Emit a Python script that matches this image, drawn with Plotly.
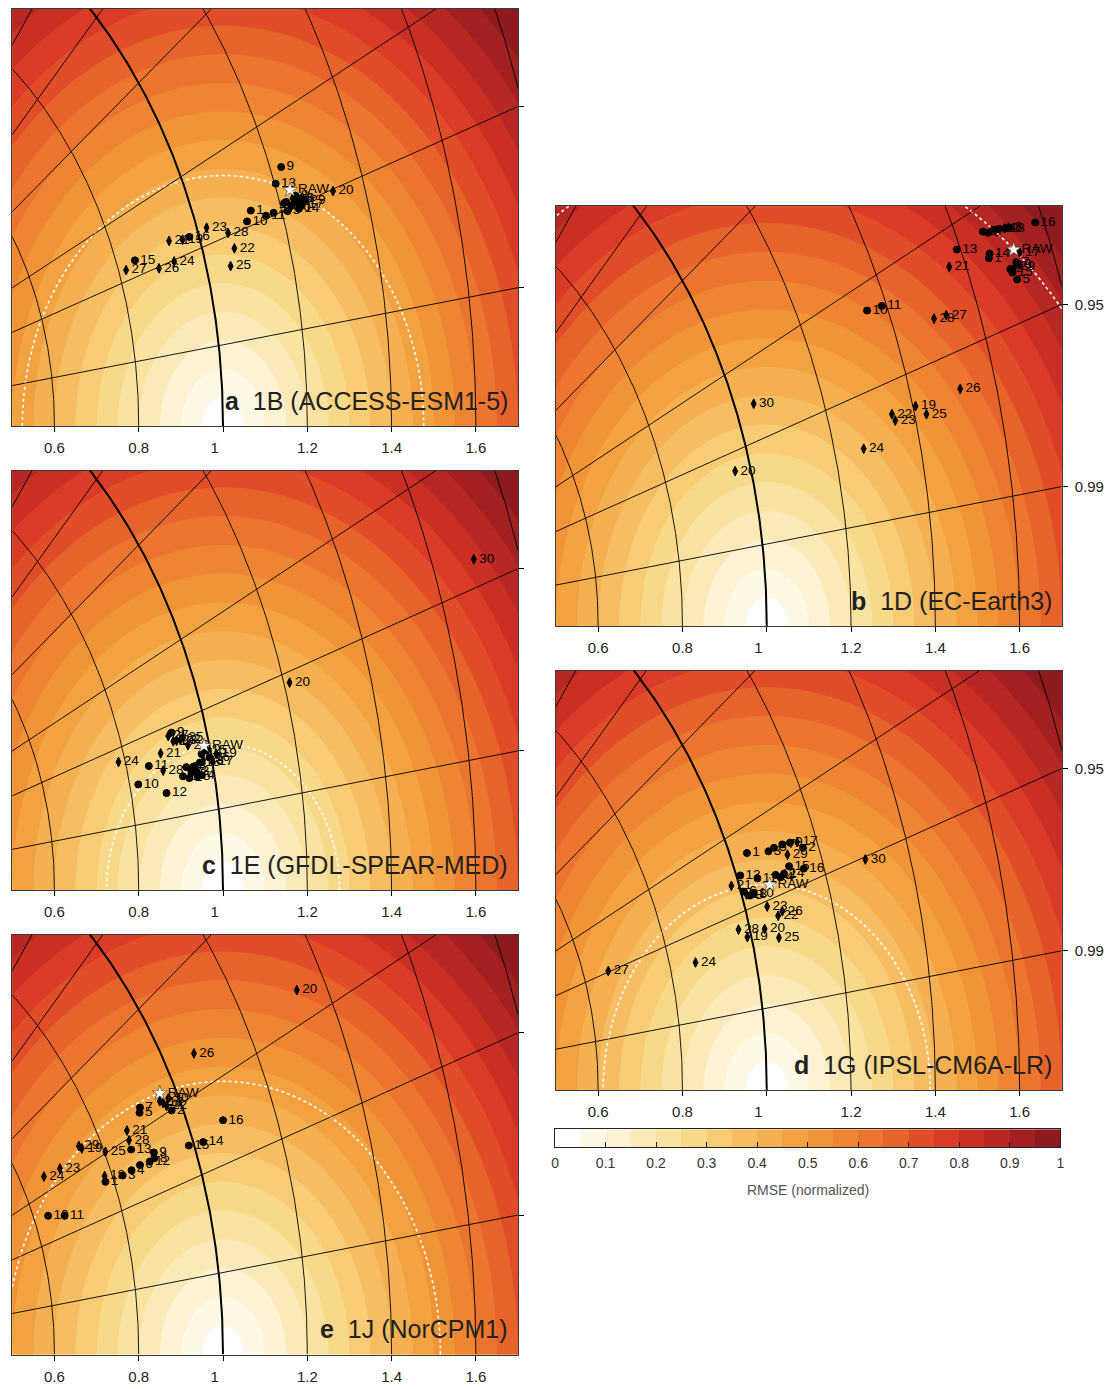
import numpy as np
import plotly.graph_objects as go

# ---------------- data ----------------
X_RANGE = [0.5, 1.7]
Y_RANGE = [0.0, 0.729]
STD_ARCS = [0.6, 0.8, 1.0, 1.2, 1.4, 1.6, 1.8]
REF_STD = 1.0
CORR_LINES = [0.6, 0.7, 0.8, 0.9, 0.95, 0.99]
CORR_TICKS = [0.95, 0.99]
CORR_TICK_TEXT = ["0.95", "0.99"]
X_TICKS = [0.6, 0.8, 1.0, 1.2, 1.4, 1.6]
X_TICK_TEXT = ["0.6", "0.8", "1\u00a0\u00a0\u00a0\u00a0", "1.2", "1.4", "1.6"]
CB_TICKS = [0, 0.1, 0.2, 0.3, 0.4, 0.5, 0.6, 0.7, 0.8, 0.9, 1.0]
CB_TICK_TEXT = ["0", "0.1", "0.2", "0.3", "0.4", "0.5", "0.6", "0.7", "0.8", "0.9", "1"]
RMSE_LEVELS = [0.05, 0.95, 0.05]  # start, end, step
RMSE_COLORS = [
    "#ffffff", "#fef9e6", "#fdf2d2", "#fbeab9", "#fae2a0", "#f8d98a",
    "#f7cc75", "#f6bd62", "#f5b051", "#f3a241", "#f19438", "#ee8532",
    "#eb742f", "#e7632c", "#e14c29", "#d93b27", "#c92f25", "#b72824",
    "#a32021", "#8e1a1e",
]

PANEL_LETTERS = ["a", "b", "c", "d", "e"]
PANEL_NAMES = ["1B (ACCESS-ESM1-5)", "1D (EC-Earth3)", "1E (GFDL-SPEAR-MED)",
               "1G (IPSL-CM6A-LR)", "1J (NorCPM1)"]

# panel a
A_ID = [1, 2, 3, 4, 5, 6, 7, 8, 9, 10, 11, 12, 13, 14, 15, 16, 17, 18, 19, 20,
        21, 22, 23, 24, 25, 26, 27, 28, 29, 30]
A_X = [1.066, 1.150, 1.162, 1.175, 1.153, 1.186, 1.120, 1.172, 1.138, 1.057,
       1.102, 1.145, 1.125, 1.180, 0.791, 0.920, 1.190, 1.165, 0.904, 1.261,
       0.872, 1.027, 0.961, 0.884, 1.018, 0.848, 0.770, 1.012, 1.195, 1.160]
A_Y = [0.377, 0.392, 0.386, 0.392, 0.376, 0.398, 0.373, 0.403, 0.453, 0.358,
       0.368, 0.390, 0.424, 0.380, 0.290, 0.331, 0.388, 0.398, 0.326, 0.411,
       0.324, 0.311, 0.347, 0.288, 0.280, 0.276, 0.273, 0.338, 0.395, 0.382]
A_RAW = [1.159, 0.413]

# panel b
B_ID = A_ID
B_X = [1.527, 1.578, 1.525, 1.541, 1.594, 1.513, 1.592, 1.576, 1.598, 1.238,
       1.273, 1.552, 1.451, 1.529, 1.583, 1.637, 1.600, 1.564, 1.353, 0.925,
       1.433, 1.297, 1.305, 1.230, 1.379, 1.459, 1.426, 1.397, 1.588, 0.969]
B_Y = [0.639, 0.620, 0.683, 0.688, 0.602, 0.685, 0.632, 0.692, 0.628, 0.548,
       0.556, 0.690, 0.654, 0.647, 0.614, 0.701, 0.649, 0.691, 0.382, 0.269,
       0.624, 0.368, 0.357, 0.308, 0.368, 0.412, 0.540, 0.534, 0.624, 0.386]
B_RAW = [1.586, 0.654]

# panel c
C_ID = A_ID
C_X = [0.905, 0.920, 0.937, 0.950, 0.940, 0.913, 0.925, 0.930, 0.878, 0.799,
       0.824, 0.866, 0.945, 0.949, 0.960, 0.968, 0.976, 0.953, 0.984, 1.158,
       0.852, 0.899, 0.890, 0.752, 0.905, 0.917, 0.870, 0.858, 0.882, 1.595]
C_Y = [0.198, 0.195, 0.207, 0.200, 0.198, 0.214, 0.205, 0.215, 0.274, 0.184,
       0.216, 0.169, 0.222, 0.237, 0.243, 0.231, 0.223, 0.226, 0.237, 0.361,
       0.238, 0.262, 0.260, 0.223, 0.266, 0.252, 0.268, 0.208, 0.259, 0.575]
C_RAW = [0.955, 0.251]

# panel d
D_ID = A_ID
D_X = [0.953, 1.086, 1.004, 1.033, 1.017, 0.945, 1.037, 0.960, 1.055, 0.968,
       0.978, 1.021, 0.937, 1.041, 1.053, 1.088, 1.072, 0.952, 0.954, 0.995,
       0.916, 1.027, 1.001, 0.831, 1.029, 1.037, 0.624, 0.933, 1.049, 1.234]
D_Y = [0.412, 0.421, 0.415, 0.370, 0.421, 0.345, 0.427, 0.338, 0.430, 0.342,
       0.368, 0.374, 0.373, 0.376, 0.389, 0.385, 0.431, 0.340, 0.266, 0.280,
       0.355, 0.303, 0.319, 0.222, 0.265, 0.311, 0.207, 0.279, 0.409, 0.401]
D_RAW = [1.007, 0.357]

# panel e
E_ID = A_ID
E_X = [0.721, 0.878, 0.762, 0.783, 0.802, 0.803, 0.803, 0.837, 0.836, 0.585,
       0.624, 0.826, 0.782, 0.953, 0.919, 1.000, 0.858, 0.719, 0.665, 1.175,
       0.772, 0.866, 0.613, 0.575, 0.721, 0.931, 0.850, 0.777, 0.658, 0.870]
E_Y = [0.300, 0.424, 0.311, 0.320, 0.420, 0.329, 0.429, 0.341, 0.351, 0.241,
       0.241, 0.335, 0.356, 0.369, 0.363, 0.407, 0.437, 0.310, 0.358, 0.633,
       0.389, 0.432, 0.323, 0.309, 0.352, 0.523, 0.440, 0.372, 0.362, 0.445]
E_RAW = [0.850, 0.454]

PANEL_DATA = [
    (A_ID, A_X, A_Y, A_RAW),
    (B_ID, B_X, B_Y, B_RAW),
    (C_ID, C_X, C_Y, C_RAW),
    (D_ID, D_X, D_Y, D_RAW),
    (E_ID, E_X, E_Y, E_RAW),
]

# ---------------- layout geometry (page pixels) ----------------
OFF = 8  # default page margin of the html body
W, H = 1115 - OFF, 1389 - OFF
PANEL_BOXES = {  # left, right, top, bottom in page px
    "a": (8.3, 517.7, 5.7, 425.7),
    "b": (556.0, 1065.4, 205.5, 625.5),
    "c": (8.3, 517.7, 470.0, 890.0),
    "d": (556.0, 1065.4, 670.0, 1090.0),
    "e": (8.3, 517.7, 934.5, 1354.5),
}
CB_BOX = (555.0, 1064.0, 1129.0, 1147.0)
RIGHT_LABELS = {"a": False, "b": True, "c": False, "d": True, "e": False}
DOT_ASPECT = 0.92
FONT = "Liberation Sans, Arial, Helvetica, sans-serif"
TXT = "#222222"


def xdom(box):
    return [max(0.0, (box[0] - OFF) / W), min(1.0, (box[1] - OFF) / W)]


def ydom(box):
    return [max(0.0, 1 - (box[3] - OFF) / H), min(1.0, 1 - (box[2] - OFF) / H)]


# colorscale mapped onto contour bands (band k -> k/(n-1))
n = len(RMSE_COLORS)
band_scale = [[k / (n - 1), c] for k, c in enumerate(RMSE_COLORS)]

gx = np.linspace(X_RANGE[0], X_RANGE[1], 181)
gy = np.linspace(Y_RANGE[0], Y_RANGE[1], 111)
GX, GY = np.meshgrid(gx, gy)
RMSE = np.round(np.sqrt((GX - REF_STD) ** 2 + GY ** 2), 4)
DOTM = np.round(np.sqrt((GX - REF_STD) ** 2 + (GY / DOT_ASPECT) ** 2), 4)

fig = go.Figure()
layout = dict(
    width=W, height=H, margin=dict(l=0, r=0, t=0, b=0),
    paper_bgcolor="white", plot_bgcolor="white", showlegend=False,
    font=dict(family=FONT, color=TXT),
)
annotations = []

theta = np.linspace(0, np.pi / 2, 400)

for i, letter in enumerate(PANEL_LETTERS):
    k = i + 1
    xa = "x" if k == 1 else f"x{k}"
    ya = "y" if k == 1 else f"y{k}"
    box = PANEL_BOXES[letter]
    ids, xs, ys, raw = PANEL_DATA[i]

    fig.add_trace(go.Contour(
        x=gx, y=gy, z=RMSE, xaxis=xa, yaxis=ya,
        colorscale=band_scale, showscale=False,
        contours=dict(start=RMSE_LEVELS[0], end=RMSE_LEVELS[1], size=RMSE_LEVELS[2],
                      coloring="fill", showlines=False),
        line=dict(width=0), hoverinfo="skip",
    ))
    # std-dev arcs
    for r in STD_ARCS:
        fig.add_trace(go.Scatter(
            x=r * np.cos(theta), y=r * np.sin(theta), xaxis=xa, yaxis=ya,
            mode="lines", line=dict(color="black", width=2.0 if r == REF_STD else 0.9),
            hoverinfo="skip",
        ))
    # correlation rays
    for c in CORR_LINES:
        s = np.sqrt(1 - c ** 2)
        fig.add_trace(go.Scatter(
            x=[0, 3 * c], y=[0, 3 * s], xaxis=xa, yaxis=ya,
            mode="lines", line=dict(color="black", width=0.9), hoverinfo="skip",
        ))
    # dotted iso-line through RAW
    lvl = float(np.sqrt((raw[0] - REF_STD) ** 2 + (raw[1] / DOT_ASPECT) ** 2))
    fig.add_trace(go.Contour(
        x=gx, y=gy, z=DOTM, xaxis=xa, yaxis=ya, showscale=False,
        contours=dict(start=lvl, end=lvl, size=1, coloring="none"),
        line=dict(color="white", width=1.6, dash="dot"), hoverinfo="skip",
    ))
    # members
    ids = list(ids)
    circ = [j for j, v in enumerate(ids) if v <= 16]
    dia = [j for j, v in enumerate(ids) if v > 16]
    for sel, sym, size in ((dia, "diamond-tall", 7), (circ, "circle", 7)):
        fig.add_trace(go.Scatter(
            x=[xs[j] for j in sel], y=[ys[j] for j in sel],
            text=[str(ids[j]) for j in sel], xaxis=xa, yaxis=ya,
            mode="markers+text", textposition="middle right",
            textfont=dict(size=13.5, color="black", family=FONT),
            marker=dict(symbol=sym, size=size, color="black",
                        line=dict(color="black", width=1)),
            cliponaxis=True, hoverinfo="skip",
        ))
    fig.add_trace(go.Scatter(
        x=[raw[0]], y=[raw[1]], text=["RAW"], xaxis=xa, yaxis=ya,
        mode="markers+text", textposition="middle right",
        textfont=dict(size=13.5, color="black", family=FONT),
        marker=dict(symbol="star", size=11, color="white",
                    line=dict(color="#333333", width=0.6)),
        hoverinfo="skip",
    ))

    ytickvals = [X_RANGE[1] * np.sqrt(1 - c ** 2) / c for c in CORR_TICKS]
    layout["xaxis" if k == 1 else f"xaxis{k}"] = dict(
        domain=xdom(box), range=X_RANGE, anchor=ya,
        tickvals=X_TICKS, ticktext=X_TICK_TEXT, ticks="outside", ticklen=5,
        tickcolor="black", tickwidth=1, ticklabelstandoff=3,
        tickfont=dict(size=15, color=TXT, family=FONT),
        showline=True, mirror=True, linecolor="#3a3a3a", linewidth=1,
        showgrid=False, zeroline=False, fixedrange=True,
    )
    layout["yaxis" if k == 1 else f"yaxis{k}"] = dict(
        domain=ydom(box), range=Y_RANGE, anchor=xa, side="right",
        tickvals=ytickvals,
        ticktext=CORR_TICK_TEXT if RIGHT_LABELS[letter] else ["", ""],
        ticks="outside", ticklen=5, tickcolor="black", tickwidth=1,
        ticklabelstandoff=4,
        tickfont=dict(size=15, color=TXT, family=FONT),
        showline=True, mirror=True, linecolor="#3a3a3a", linewidth=1,
        showgrid=False, zeroline=False, fixedrange=True,
    )
    annotations.append(dict(
        xref=f"{xa} domain", yref=f"{ya} domain", x=0.985, y=0.022,
        xanchor="right", yanchor="bottom", showarrow=False,
        text=f"<b>{letter}</b>\u00a0\u00a0{PANEL_NAMES[i]}",
        font=dict(size=25, color=TXT, family=FONT),
    ))

# colour bar as its own axis
kcb = len(PANEL_LETTERS) + 1
step_scale = []
for j, c in enumerate(RMSE_COLORS):
    step_scale.append([j / n, c])
    step_scale.append([(j + 1) / n, c])
centers = [(j + 0.5) / n for j in range(n)]
fig.add_trace(go.Heatmap(
    x=centers, y=[0], z=[[j + 0.5 for j in range(n)]],
    zmin=0, zmax=n, colorscale=step_scale, showscale=False,
    xaxis=f"x{kcb}", yaxis=f"y{kcb}", hoverinfo="skip",
))
layout[f"xaxis{kcb}"] = dict(
    domain=xdom(CB_BOX), range=[0, 1], anchor=f"y{kcb}",
    tickvals=CB_TICKS, ticktext=CB_TICK_TEXT, ticks="inside", ticklen=5,
    tickcolor="#222", ticklabelstandoff=3,
    tickfont=dict(size=14, color="#333", family=FONT),
    showline=True, mirror=True, linecolor="#222", linewidth=1,
    showgrid=False, zeroline=False, fixedrange=True,
)
layout[f"yaxis{kcb}"] = dict(
    domain=ydom(CB_BOX), range=[-0.5, 0.5], anchor=f"x{kcb}",
    showticklabels=False, ticks="", showline=True, mirror=True,
    linecolor="#222", linewidth=1, showgrid=False, zeroline=False, fixedrange=True,
)
annotations.append(dict(
    xref="paper", yref="paper", x=((CB_BOX[0] + CB_BOX[1]) / 2 - OFF) / W,
    y=1 - (1190 - OFF) / H,
    xanchor="center", yanchor="middle", showarrow=False,
    text="RMSE (normalized)", font=dict(size=14, color="#555", family=FONT),
))

layout["annotations"] = annotations
fig.update_layout(**layout)
fig.write_html("out.html")
